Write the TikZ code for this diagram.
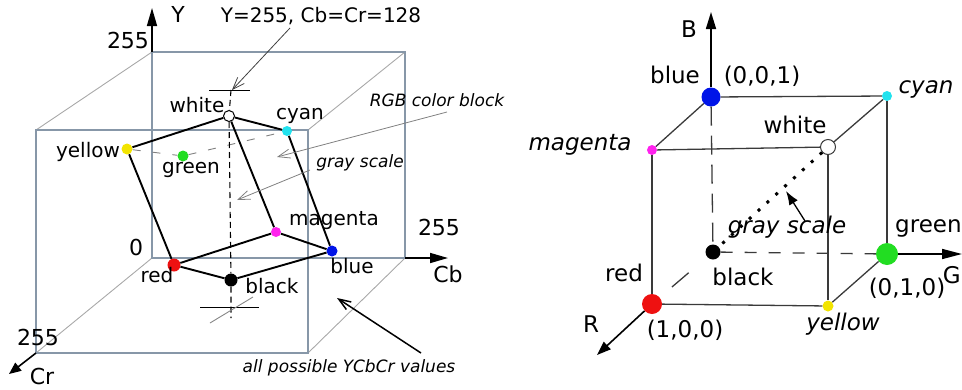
\documentclass[tikz,border=0pt]{standalone}
\usepackage{fontspec}
\setmainfont{DejaVu Sans}
\usepackage{tikz}
\usetikzlibrary{arrows.meta,positioning,calc}
\definecolor{boxline}{HTML}{8797A8}
\definecolor{linkgray}{HTML}{A8A8A8}
\definecolor{cubegray}{HTML}{3A3A3A}
\definecolor{cred}{HTML}{EE1111}
\definecolor{cgreen}{HTML}{22DD22}
\definecolor{cblue}{HTML}{0014E8}
\definecolor{ccyan}{HTML}{22E2EE}
\definecolor{cmagenta}{HTML}{FF22EE}
\definecolor{cyellow}{HTML}{F2E400}
\tikzset{dot/.style={circle,inner sep=0pt,minimum size=#1},box/.style={draw=boxline,line width=1.3pt},link/.style={draw=linkgray,line width=0.9pt},edge/.style={line width=1.9pt},rgbedge/.style={draw=cubegray,line width=1.3pt},axis/.style={line width=1.6pt,-{Triangle[length=18pt,width=10pt]}},pointer/.style={draw=gray,line width=0.8pt,-{Straight Barb[length=12pt,width=9pt]}},lab/.style={font=\fontsize{20}{22}\selectfont,inner sep=0pt,anchor=base},axlab/.style={font=\fontsize{22}{24}\selectfont,inner sep=0pt,anchor=base},note/.style={font=\fontsize{17}{19}\selectfont\itshape,inner sep=0pt,anchor=base},rlab/.style={font=\fontsize{23}{25}\selectfont,inner sep=0pt,anchor=base}}

\begin{document}
\begin{tikzpicture}[x=1pt,y=-1pt]
\useasboundingbox (0,0) rectangle (962,389);
% YCbCr box
\coordinate (bo) at (152,258);
\coordinate (bt) at (152,52);
\coordinate (btr) at (405,52);
\coordinate (bbr) at (405,258);
\coordinate (fo) at (36,353);
\coordinate (ft) at (36,130);
\coordinate (ftr) at (308,130);
\coordinate (fbr) at (308,353);
\draw[link] (bt)--(ft) (btr)--(ftr) (bo)--(fo) (bbr)--(fbr);
\draw[box] (bt) rectangle (bbr);
\draw[box] (ft) rectangle (fbr);
\coordinate (ytip) at (152,8);
\coordinate (cbtip) at (448,258);
\coordinate (crtip) at (9,374);
\draw[axis] (bt)--(ytip);
\draw[axis] (bbr)--(cbtip);
\draw[axis,-{Triangle[length=12pt,width=10pt]}] (fo)--(crtip);
\node[axlab] (ylab) at (178,22) {Y};
\node[axlab] (ymax) at (128,48) {255};
\node[axlab] (zero) at (136,255) {0};
\node[axlab] (cbmax) at (439,235) {255};
\node[axlab] (cblab) at (448,282) {Cb};
\node[axlab] (crmax) at (38,345) {255};
\node[axlab] (crlab) at (42,384) {Cr};
% RGB block inside
\node[dot=11pt,draw,line width=1pt,fill=white] (lwhite) at (229,116) {};
\node[dot=10pt,fill=ccyan] (lcyan) at (287,131) {};
\node[dot=11pt,fill=cyellow] (lyellow) at (127,149) {};
\node[dot=11pt,fill=cgreen] (lgreen) at (183,156) {};
\node[dot=10pt,fill=cmagenta] (lmagenta) at (276,232) {};
\node[dot=11pt,fill=cblue] (lblue) at (332,251) {};
\node[dot=13pt,fill=cred] (lred) at (174,265) {};
\node[dot=13pt,fill=black] (lblack) at (231,280) {};
\draw[gray,line width=0.9pt,dash pattern=on 8pt off 12pt] (lyellow)--(lgreen)--(lcyan);
\coordinate (ltop) at (231,90);
\coordinate (lbot) at (231,318);
\draw[line width=1.1pt,dash pattern=on 6pt off 4pt] (ltop)--(lwhite) (lwhite)--(lblack) (lblack)--(lbot);
\draw[line width=0.9pt] ($(ltop)+(-22,0)$)--($(ltop)+(19,0)$);
\draw[line width=0.9pt] ($(lbot)+(-31,-11)$)--($(lbot)+(28,-11)$);
\draw[linkgray!80!black,line width=0.9pt] ($(lbot)+(-21,5)$)--($(lbot)+(22,-21)$);
\draw[edge] (lyellow)--(lwhite)--(lcyan);
\draw[edge] (lwhite)--(lmagenta);
\draw[edge] (lcyan)--(lblue);
\draw[edge] (lyellow)--(lred);
\draw[edge] (lred)--(lmagenta)--(lblue);
\draw[edge] (lred)--(lblack)--(lblue);
\node[lab] (lwhitelab) at (197,112) {white};
\node[lab] (lcyanlab) at (300,119) {cyan};
\node[lab] (lyellowlab) at (88,157) {yellow};
\node[lab] (lgreenlab) at (191,173) {green};
\node[lab] (lmagentalab) at (334,225) {magenta};
\node[lab] (lbluelab) at (352,273) {blue};
\node[lab] (lredlab) at (157,282) {red};
\node[lab] (lblacklab) at (272,293) {black};
% notes
\node[lab] (topnote) at (321,22) {Y=255, Cb=Cr=128};
\node[note] (rgbnote) at (437,106) {RGB color block};
\node[note] (graynote) at (360,167) {gray scale};
\node[note] (allnote) at (349,372) {all possible YCbCr values};
\coordinate (toptail) at (290,28);
\coordinate (tophead) at (232,90);
\coordinate (rgbtail) at (447,112);
\coordinate (rgbhead) at (277,157);
\coordinate (graytail) at (310,170);
\coordinate (grayhead) at (237,200);
\coordinate (alltail) at (421,353);
\coordinate (allhead) at (337,298);
\draw[pointer,draw=black!75] (toptail)--(tophead);
\draw[pointer] (rgbtail)--(rgbhead);
\draw[pointer] (graytail)--(grayhead);
\draw[pointer,draw=black,line width=1.5pt] (alltail)--(allhead);
% RGB cube
\node[dot=19pt,fill=cblue] (rblue) at (711,97) {};
\node[dot=10pt,fill=ccyan] (rcyan) at (887,96) {};
\node[dot=10pt,fill=cmagenta] (rmagenta) at (652,150) {};
\node[dot=15pt,draw=cubegray,line width=1pt,fill=white] (rwhite) at (828,147) {};
\node[dot=15pt,fill=black] (rblack) at (713,252) {};
\node[dot=22pt,fill=cgreen] (rgreen) at (887,254) {};
\node[dot=20pt,fill=cred] (rred) at (652,304) {};
\node[dot=11pt,fill=cyellow] (ryellow) at (828,306) {};
\draw[rgbedge] (rblue)--(rcyan);
\draw[rgbedge] (rblue)--(rmagenta);
\draw[rgbedge] (rcyan)--(rwhite);
\draw[rgbedge] (rmagenta)--(rwhite);
\draw[rgbedge] (rmagenta)--(rred);
\draw[rgbedge] (rwhite)--(ryellow);
\draw[rgbedge] (rcyan)--(rgreen);
\draw[rgbedge] (rred)--(ryellow);
\draw[rgbedge] (ryellow)--(rgreen);
\draw[rgbedge,dash pattern=on 19pt off 10pt] (rblue)--(rblack);
\draw[rgbedge,dash pattern=on 12pt off 12pt] (rblack)--(rgreen);
\draw[rgbedge,dash pattern=on 0pt off 16pt on 22pt off 60pt] (rred)--(rblack);
\draw[line width=3pt,dash pattern=on 3pt off 9pt] (rwhite)--(rblack);
\coordinate (btip) at (711,12);
\coordinate (gtip) at (962,254);
\coordinate (rtip) at (597,355);
\draw[axis,-{Triangle[length=17pt,width=10pt]}] (rblue)--(btip);
\draw[axis,-{Triangle[length=20pt,width=10pt]}] (rgreen)--(gtip);
\draw[axis,-{Triangle[length=14pt,width=10pt]}] (rred)--(rtip);
\coordinate (rgraytail) at (805,221);
\coordinate (rgrayhead) at (786,191);
\draw[line width=1.3pt,-{Latex[length=14pt,width=10pt]}] (rgraytail)--(rgrayhead);
\node[rlab] (blab) at (689,37) {B};
\node[rlab] (rbluelab) at (675,83) {blue};
\node[rlab] (bcoord) at (762,83) {(0,0,1)};
\node[rlab,font=\fontsize{23}{25}\selectfont\itshape] (rcyanlab) at (926,93) {cyan};
\node[rlab] (rwhitelab) at (795,133) {white};
\node[rlab,font=\fontsize{23}{25}\selectfont\itshape] (rmagentalab) at (580,150) {magenta};
\node[rlab,font=\fontsize{23}{25}\selectfont\itshape] (rgraylab) at (787,233) {gray scale};
\node[rlab,anchor=base west] (rgreenlab) at (895,232) {green};
\node[rlab] (rredlab) at (624,281) {red};
\node[rlab] (rblacklab) at (743,285) {black};
\node[rlab] (gcoord) at (907,295) {(0,1,0)};
\node[rlab,anchor=base east] (glab) at (961,283) {G};
\node[rlab] (rlab) at (591,332) {R};
\node[rlab] (rcoord) at (685,337) {(1,0,0)};
\node[rlab,font=\fontsize{23}{25}\selectfont\itshape] (ryellowlab) at (843,330) {yellow};
\end{tikzpicture}
\end{document}
